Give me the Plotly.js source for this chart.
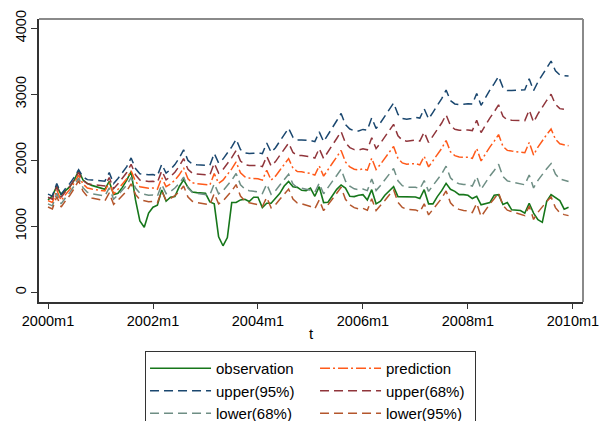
<!DOCTYPE html>
<html>
<head>
<meta charset="utf-8">
<script src="https://cdn.plot.ly/plotly-3.0.1.min.js"></script>
<style>
  html, body { margin: 0; padding: 0; background: #fff; }
  #chart { width: 602px; height: 421px; }
</style>
</head>
<body>
<div id="chart"></div>
<script>
// Monthly periods 2000m1 .. 2009m12
const months = [];
for (let y = 2000; y <= 2009; y++) for (let m = 1; m <= 12; m++) months.push(y + 'm' + m);
const t = months.map((_, i) => i);

const observation = [
  1400,1460,1610,1480,1540,1600,1700,1845,1700,1650,1620,1600,
  1580,1560,1680,1480,1500,1590,1700,1830,1400,1080,985,1200,
  1290,1320,1550,1380,1440,1450,1600,1705,1590,1520,1510,1510,
  1500,1370,1340,840,705,830,1360,1360,1400,1410,1375,1440,
  1440,1285,1350,1350,1420,1500,1610,1680,1600,1590,1545,1540,
  1580,1455,1600,1360,1365,1470,1560,1625,1580,1455,1450,1470,
  1480,1400,1555,1340,1380,1470,1540,1600,1450,1450,1440,1440,
  1445,1420,1555,1340,1340,1450,1540,1650,1560,1530,1480,1480,
  1470,1420,1455,1325,1340,1360,1470,1480,1330,1360,1250,1250,
  1240,1200,1350,1200,1100,1060,1380,1480,1440,1390,1260,1290
];

const prediction = [
  1390,1360,1550,1390,1480,1560,1660,1775,1640,1580,1565,1555,
  1550,1535,1660,1490,1560,1640,1720,1840,1680,1600,1585,1576,
  1580,1560,1737,1600,1640,1700,1780,1885,1720,1660,1645,1640,
  1640,1625,1800,1650,1700,1780,1870,1975,1810,1750,1730,1725,
  1720,1700,1850,1700,1760,1850,1935,2025,1880,1830,1825,1815,
  1800,1775,1915,1760,1850,1955,2050,2150,1975,1900,1865,1855,
  1870,1850,2030,1860,1940,2030,2120,2210,2030,1960,1940,1940,
  1950,1930,2060,1900,1990,2080,2180,2300,2130,2070,2050,2045,
  2045,2030,2180,1990,2100,2200,2290,2390,2210,2150,2140,2130,
  2130,2115,2270,2080,2200,2300,2390,2475,2320,2250,2230,2220
];

const upper95 = [
  1488,1458,1648,1488,1574,1650,1746,1857,1748,1707,1702,1696,
  1695,1684,1813,1647,1725,1812,1904,2036,1876,1796,1785,1780,
  1784,1764,1941,1806,1860,1935,2035,2159,1998,1942,1931,1930,
  1934,1923,2104,1960,2018,2105,2203,2318,2163,2113,2102,2107,
  2112,2102,2262,2121,2191,2291,2386,2486,2348,2306,2309,2307,
  2300,2283,2430,2283,2381,2494,2599,2709,2541,2474,2447,2445,
  2468,2456,2643,2481,2569,2669,2767,2867,2696,2634,2624,2632,
  2652,2640,2779,2627,2727,2825,2935,3064,2904,2854,2844,2849,
  2858,2853,3013,2833,2953,3062,3162,3272,3104,3056,3057,3059,
  3071,3068,3234,3056,3188,3300,3403,3504,3357,3295,3283,3278
];

const upper68 = [
  1440,1410,1600,1440,1528,1606,1704,1817,1695,1645,1635,1627,
  1624,1611,1738,1570,1644,1728,1814,1940,1780,1700,1687,1680,
  1684,1664,1841,1705,1752,1820,1910,2025,1862,1804,1791,1788,
  1790,1777,1955,1808,1862,1946,2040,2150,1990,1935,1920,1920,
  1920,1905,2060,1915,1980,2075,2165,2260,2119,2073,2072,2066,
  2055,2034,2178,2027,2121,2230,2330,2435,2264,2193,2162,2156,
  2175,2159,2343,2177,2261,2356,2450,2545,2370,2304,2289,2293,
  2308,2292,2427,2271,2366,2460,2565,2690,2525,2470,2455,2455,
  2460,2450,2605,2420,2535,2640,2735,2840,2666,2612,2608,2604,
  2610,2601,2762,2578,2704,2810,2907,3000,2849,2783,2767,2760
];

const lower68 = [
  1340,1310,1500,1340,1432,1514,1616,1733,1585,1515,1495,1483,
  1476,1459,1582,1410,1476,1552,1626,1740,1580,1500,1483,1472,
  1476,1456,1633,1495,1528,1580,1650,1745,1578,1516,1499,1492,
  1490,1473,1645,1492,1538,1614,1700,1800,1630,1565,1540,1530,
  1520,1495,1640,1485,1540,1625,1705,1790,1641,1587,1578,1564,
  1545,1516,1652,1493,1579,1680,1770,1865,1686,1607,1568,1554,
  1565,1541,1717,1543,1619,1704,1790,1875,1690,1616,1591,1587,
  1592,1568,1693,1529,1614,1700,1795,1910,1735,1670,1645,1635,
  1630,1610,1755,1560,1665,1760,1845,1940,1754,1688,1672,1656,
  1650,1629,1778,1582,1696,1790,1873,1950,1791,1717,1693,1680
];

const lower95 = [
  1292,1262,1452,1292,1386,1470,1574,1693,1532,1453,1428,1414,
  1405,1386,1507,1333,1395,1468,1536,1644,1484,1404,1385,1372,
  1376,1356,1533,1394,1420,1465,1525,1611,1442,1378,1359,1350,
  1346,1327,1496,1340,1382,1455,1537,1632,1457,1387,1358,1343,
  1328,1298,1438,1279,1329,1409,1484,1564,1412,1354,1341,1323,
  1300,1267,1400,1237,1319,1416,1501,1591,1409,1326,1283,1265,
  1272,1244,1417,1239,1311,1391,1473,1553,1364,1286,1256,1248,
  1248,1220,1341,1173,1253,1335,1425,1536,1356,1286,1256,1241,
  1232,1207,1347,1147,1247,1338,1418,1508,1316,1244,1223,1201,
  1189,1162,1306,1104,1212,1300,1377,1446,1283,1205,1177,1162
];

const tickPos = [0, 24, 48, 72, 96, 120];
const tickLabels = ['2000m1', '2002m1', '2004m1', '2006m1', '2008m1', '2010m1'];
const yTicks = [0, 1000, 2000, 3000, 4000];

const FONT = 'Liberation Sans, Arial, Helvetica, sans-serif';

function series(name, y, color, dash, group, entry) {
  return {
    type: 'scatter', mode: 'lines', name: name, x: t, y: y,
    legendgroup: group, legendwidth: entry,
    line: { color: color, width: dash === 'solid' ? 1.6 : 1.5, dash: dash }
  };
}

const traces = [
  series('observation', observation, '#16761a', 'solid', 'a', 94),
  series('prediction', prediction, '#ff5a1a', '10px,3px,2px,3px', 'b', 84),
  series('upper(95%)', upper95, '#1a476f', '9px,5px', 'a', 94),
  series('upper(68%)', upper68, '#90353b', '9px,5px', 'b', 84),
  series('lower(68%)', lower68, '#6e8e84', '9px,5px', 'a', 94),
  series('lower(95%)', lower95, '#b4562c', '9px,5px', 'b', 84)
];

const layout = {
  width: 602, height: 421,
  margin: { l: 39, r: 19, t: 19, b: 119, autoexpand: false },
  paper_bgcolor: '#ffffff', plot_bgcolor: '#ffffff',
  font: { family: FONT, size: 14.5, color: '#000' },
  showlegend: true,
  xaxis: {
    range: [-2.06, 122.3], showgrid: false, zeroline: false,
    showline: true, linecolor: '#333', linewidth: 1.6,
    ticks: 'outside', ticklen: 5, tickwidth: 1, tickcolor: '#333',
    tickvals: tickPos, ticktext: tickLabels,
    tickfont: { family: FONT, size: 14.5, color: '#000' },
    title: { text: 't', font: { family: FONT, size: 15, color: '#000' }, standoff: 0 }
  },
  yaxis: {
    range: [-147, 4141], showgrid: false, zeroline: false,
    showline: true, linecolor: '#333', linewidth: 1.6,
    ticks: 'outside', ticklen: 6, tickwidth: 1, tickcolor: '#333',
    tickvals: yTicks, ticktext: yTicks.map(String), tickangle: -90,
    tickfont: { family: FONT, size: 14.5, color: '#000' }
  },
  shapes: [
    { type: 'line', xref: 'paper', yref: 'paper', x0: 0, x1: 1, y0: 1, y1: 1,
      line: { color: '#8a8a8a', width: 2 } },
    { type: 'line', xref: 'paper', yref: 'paper', x0: 1, x1: 1, y0: 0, y1: 1,
      line: { color: '#8a8a8a', width: 2 } }
  ],
  legend: {
    orientation: 'h', traceorder: 'grouped',
    x: 0.1949, y: -0.1731, xanchor: 'left', yanchor: 'top',
    bgcolor: '#ffffff', bordercolor: '#333', borderwidth: 1,
    itemwidth: 61, entrywidthmode: 'pixels',
    font: { family: FONT, size: 15, color: '#000' }
  }
};

Plotly.newPlot('chart', traces, layout, { staticPlot: true, displayModeBar: false });
</script>
</body>
</html>
